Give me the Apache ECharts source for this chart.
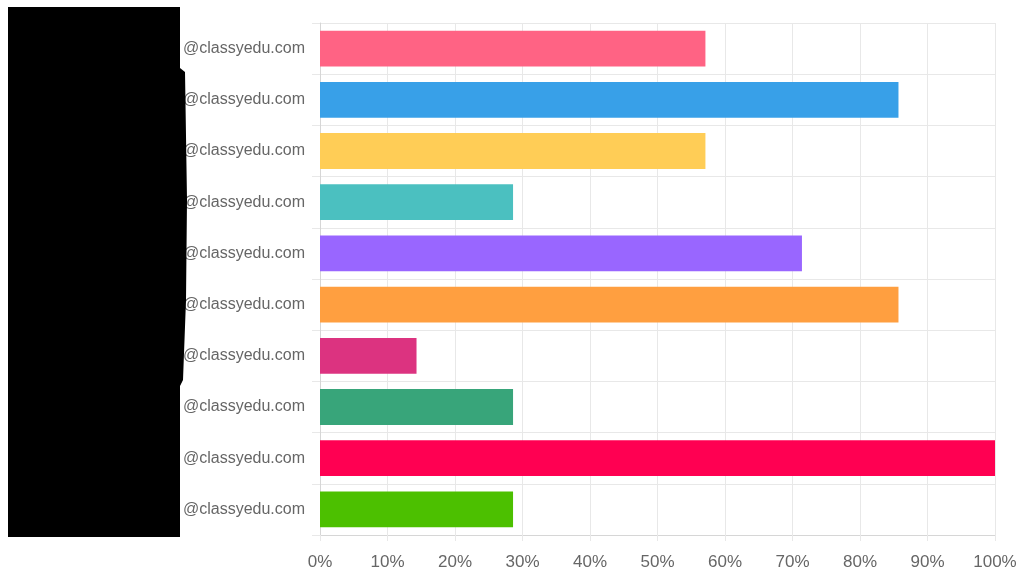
<!DOCTYPE html>
<html>
<head>
<meta charset="utf-8">
<script src="https://cdn.jsdelivr.net/npm/echarts@6/dist/echarts.min.js"></script>
<style>
html,body{margin:0;padding:0;background:#fff;}
#chart{width:1021px;height:575px;}
</style>
</head>
<body>
<div id="chart"></div>
<script>
const categories = [
  '@classyedu.com', '@classyedu.com', '@classyedu.com', '@classyedu.com', '@classyedu.com',
  '@classyedu.com', '@classyedu.com', '@classyedu.com', '@classyedu.com', '@classyedu.com'
];
const values = [57.1, 85.7, 57.1, 28.6, 71.4, 85.7, 14.3, 28.6, 100, 28.6];
const barColors = ['#FF6384', '#38A0E8', '#FFCD56', '#4BC0C0', '#9966FF',
                   '#FF9F40', '#DC3380', '#38A57A', '#FF0052', '#4CC000'];
const xTicks = { min: 0, max: 100, interval: 10 };

const chart = echarts.init(document.getElementById('chart'));
const gridColor = '#e8e8e8';
chart.setOption({
  animation: false,
  grid: { left: 320, right: 26, top: 23, bottom: 40 },
  xAxis: {
    type: 'value',
    min: xTicks.min, max: xTicks.max, interval: xTicks.interval,
    axisLine: { show: true, lineStyle: { color: '#d6d6d6' } },
    axisTick: { show: true, length: 6, lineStyle: { color: gridColor } },
    splitLine: { show: true, lineStyle: { color: gridColor } },
    axisLabel: { formatter: '{value}%', color: '#666', fontSize: 17, margin: 19,
                 fontFamily: 'Liberation Sans, Arial, sans-serif' }
  },
  yAxis: {
    type: 'category',
    inverse: true,
    data: categories,
    axisLine: { show: true, lineStyle: { color: '#d6d6d6' } },
    axisTick: { show: true, length: 8, lineStyle: { color: gridColor } },
    splitLine: { show: true, lineStyle: { color: gridColor } },
    axisLabel: { color: '#666', fontSize: 16, margin: 15,
                 fontFamily: 'Liberation Sans, Arial, sans-serif' }
  },
  series: [{
    type: 'bar',
    data: values.map((v, i) => ({ value: v, itemStyle: { color: barColors[i] } })),
    barCategoryGap: '30%'
  }],
  graphic: [{
    type: 'polygon',
    z: 100,
    shape: { points: [[8,7],[180,7],[180,68],[185,72],[187,200],[186,300],[183,380],[180,386],[180,537],[8,537]] },
    style: { fill: '#000' }
  }]
});
</script>
</body>
</html>
